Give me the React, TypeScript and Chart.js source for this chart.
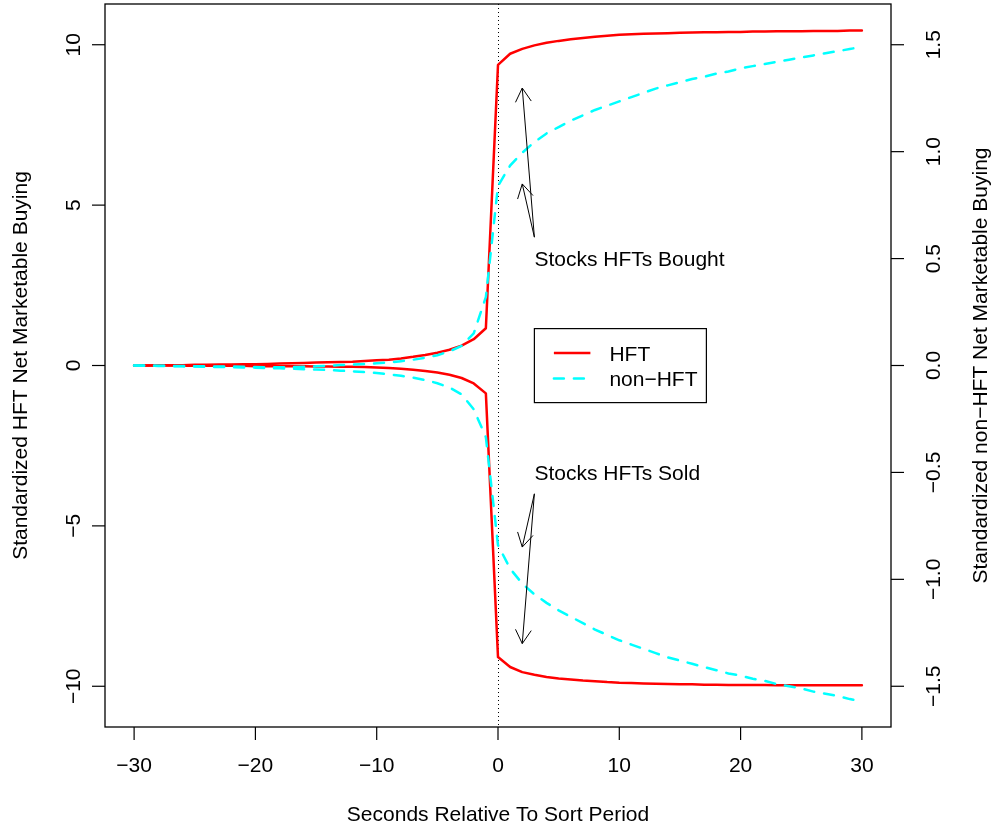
import React, { useEffect, useRef } from "react";
import { Chart, registerables } from "chart.js";

Chart.register(...registerables);

// Seconds relative to sort period
const SECONDS = [
  -30, -29, -28, -27, -26, -25, -24, -23, -22, -21, -20, -19, -18, -17, -16, -15,
  -14, -13, -12, -11, -10, -9, -8, -7, -6, -5, -4, -3, -2, -1, 0, 1, 2, 3, 4, 5,
  6, 7, 8, 9, 10, 11, 12, 13, 14, 15, 16, 17, 18, 19, 20, 21, 22, 23, 24, 25, 26,
  27, 28, 29, 30,
];

// Standardized HFT net marketable buying (left axis) – stocks HFTs bought
const HFT_BOUGHT = [
  0.0, 0.0, 0.01, 0.01, 0.01, 0.02, 0.02, 0.03, 0.03, 0.04, 0.04, 0.05, 0.06, 0.07,
  0.08, 0.09, 0.1, 0.11, 0.12, 0.14, 0.16, 0.18, 0.22, 0.27, 0.33, 0.4, 0.49, 0.62,
  0.82, 1.16, 9.37, 9.72, 9.87, 9.98, 10.06, 10.12, 10.17, 10.21, 10.25, 10.28,
  10.31, 10.33, 10.34, 10.35, 10.36, 10.37, 10.38, 10.39, 10.39, 10.4, 10.4, 10.41,
  10.41, 10.42, 10.42, 10.42, 10.43, 10.43, 10.43, 10.44, 10.44,
];

// Standardized HFT net marketable buying (left axis) – stocks HFTs sold
const HFT_SOLD = [
  0.0, 0.0, 0.0, 0.0, -0.01, -0.01, -0.01, -0.01, -0.01, -0.01, -0.02, -0.02, -0.02,
  -0.02, -0.02, -0.03, -0.03, -0.04, -0.04, -0.05, -0.06, -0.08, -0.1, -0.13, -0.17,
  -0.22, -0.29, -0.39, -0.56, -0.87, -9.09, -9.4, -9.56, -9.64, -9.71, -9.76, -9.79,
  -9.82, -9.84, -9.87, -9.89, -9.9, -9.91, -9.92, -9.93, -9.94, -9.94, -9.95, -9.95,
  -9.96, -9.96, -9.96, -9.96, -9.97, -9.97, -9.97, -9.97, -9.97, -9.97, -9.97, -9.97,
];

// Standardized non-HFT net marketable buying (right axis) – stocks HFTs bought
const NONHFT_BOUGHT = [
  0.0, 0.0, -0.001, -0.002, -0.002, -0.003, -0.004, -0.005, -0.005, -0.006, -0.007,
  -0.008, -0.008, -0.007, -0.006, -0.004, -0.001, 0.002, 0.004, 0.007, 0.01, 0.014,
  0.02, 0.027, 0.036, 0.048, 0.066, 0.092, 0.15, 0.32, 0.84, 0.935, 0.995, 1.045,
  1.085, 1.115, 1.145, 1.17, 1.195, 1.215, 1.235, 1.255, 1.275, 1.295, 1.31, 1.325,
  1.34, 1.35, 1.365, 1.375, 1.39, 1.4, 1.41, 1.42, 1.43, 1.44, 1.45, 1.46, 1.47,
  1.48, 1.49,
];

// Standardized non-HFT net marketable buying (right axis) – stocks HFTs sold
const NONHFT_SOLD = [
  0.0, -0.001, -0.002, -0.003, -0.004, -0.005, -0.006, -0.007, -0.008, -0.009, -0.01,
  -0.012, -0.013, -0.015, -0.017, -0.019, -0.021, -0.024, -0.027, -0.031, -0.035,
  -0.041, -0.048, -0.057, -0.068, -0.083, -0.103, -0.135, -0.205, -0.335, -0.84,
  -0.95, -1.02, -1.07, -1.11, -1.145, -1.175, -1.205, -1.235, -1.26, -1.285, -1.305,
  -1.325, -1.345, -1.365, -1.38, -1.395, -1.41, -1.425, -1.44, -1.45, -1.465, -1.475,
  -1.49, -1.5, -1.51, -1.525, -1.535, -1.545, -1.56, -1.57,
];

const X_TICKS = [-30, -20, -10, 0, 10, 20, 30];
const Y_LEFT_TICKS = [-10, -5, 0, 5, 10];
const Y_RIGHT_TICKS = [-1.5, -1.0, -0.5, 0.0, 0.5, 1.0, 1.5];

const X_TITLE = "Seconds Relative To Sort Period";
const Y_LEFT_TITLE = "Standardized HFT Net Marketable Buying";
const Y_RIGHT_TITLE = "Standardized non\u2212HFT Net Marketable Buying";
const LEGEND_LABELS = ["HFT", "non\u2212HFT"];

const NOTE_BOUGHT = { text: "Stocks HFTs Bought", x: 3, y: 3.33, fromY: 4.0, tipX: 2, tipYs: [8.65, 5.66] };
const NOTE_SOLD = { text: "Stocks HFTs Sold", x: 3, y: -3.33, fromY: -4.0, tipX: 2, tipYs: [-5.66, -8.67] };
const LEGEND_ANCHOR = { x: 3, y: 1.15 };

const RED = "#ff0000";
const CYAN = "#00ffff";
const FONT_FAMILY = '"Liberation Sans", Arial, Helvetica, sans-serif';
const FONT = `21px ${FONT_FAMILY}`;
const CAP_HALF = 7.5;

const fmt = (v: number, digits: number) => {
  const s = v.toFixed(digits);
  return s.startsWith("-") ? "\u2212" + s.slice(1) : s;
};

const rPlot = {
  id: "rPlot",
  beforeDatasetsDraw(chart: any) {
    const ctx = chart.ctx;
    const { top, bottom } = chart.chartArea;
    const xs = chart.scales.x;
    const px = xs.getPixelForValue(0);
    ctx.save();
    ctx.strokeStyle = "#000";
    ctx.lineWidth = 1;
    ctx.setLineDash([1, 3]);
    ctx.beginPath();
    ctx.moveTo(Math.round(px) + 0.5, top);
    ctx.lineTo(Math.round(px) + 0.5, bottom);
    ctx.stroke();
    ctx.restore();
  },
  afterDraw(chart: any) {
    const ctx = chart.ctx;
    const { left, right, top, bottom } = chart.chartArea;
    const xs = chart.scales.x;
    const yl = chart.scales.y;
    const yr = chart.scales.y2;
    ctx.save();
    ctx.strokeStyle = "#000";
    ctx.fillStyle = "#000";
    ctx.setLineDash([]);
    ctx.font = FONT;

    ctx.lineWidth = 1.3;
    ctx.strokeRect(left, top, right - left, bottom - top);

    ctx.lineWidth = 1.2;
    ctx.textAlign = "center";
    ctx.textBaseline = "alphabetic";
    X_TICKS.forEach((v) => {
      const p = xs.getPixelForValue(v);
      ctx.beginPath();
      ctx.moveTo(p, bottom);
      ctx.lineTo(p, bottom + 13);
      ctx.stroke();
      ctx.fillText(fmt(v, 0), p, bottom + 45);
    });
    ctx.fillText(X_TITLE, (left + right) / 2, bottom + 94);

    Y_LEFT_TICKS.forEach((v) => {
      const p = yl.getPixelForValue(v);
      ctx.beginPath();
      ctx.moveTo(left, p);
      ctx.lineTo(left - 13, p);
      ctx.stroke();
      ctx.save();
      ctx.translate(left - 25, p);
      ctx.rotate(-Math.PI / 2);
      ctx.fillText(fmt(v, 0), 0, 0);
      ctx.restore();
    });
    ctx.save();
    ctx.translate(left - 78, (top + bottom) / 2);
    ctx.rotate(-Math.PI / 2);
    ctx.fillText(Y_LEFT_TITLE, 0, 0);
    ctx.restore();

    Y_RIGHT_TICKS.forEach((v) => {
      const p = yr.getPixelForValue(v);
      ctx.beginPath();
      ctx.moveTo(right, p);
      ctx.lineTo(right + 13, p);
      ctx.stroke();
      ctx.save();
      ctx.translate(right + 49, p);
      ctx.rotate(-Math.PI / 2);
      ctx.fillText(fmt(v, 1), 0, 0);
      ctx.restore();
    });
    ctx.save();
    ctx.translate(right + 95.5, (top + bottom) / 2);
    ctx.rotate(-Math.PI / 2);
    ctx.fillText(Y_RIGHT_TITLE, 0, 0);
    ctx.restore();

    const drawArrow = (x0: number, y0: number, x1: number, y1: number) => {
      ctx.lineWidth = 1;
      ctx.beginPath();
      ctx.moveTo(x0, y0);
      ctx.lineTo(x1, y1);
      ctx.stroke();
      const dx = x1 - x0;
      const dy = y1 - y0;
      const len = Math.hypot(dx, dy);
      const ux = dx / len;
      const uy = dy / len;
      const L = 15.8;
      const a = Math.PI / 6;
      [a, -a].forEach((ang) => {
        const rx = ux * Math.cos(ang) - uy * Math.sin(ang);
        const ry = ux * Math.sin(ang) + uy * Math.cos(ang);
        ctx.beginPath();
        ctx.moveTo(x1, y1);
        ctx.lineTo(x1 - L * rx, y1 - L * ry);
        ctx.stroke();
      });
    };
    [NOTE_BOUGHT, NOTE_SOLD].forEach((n) => {
      ctx.textAlign = "left";
      ctx.fillText(n.text, xs.getPixelForValue(n.x), yl.getPixelForValue(n.y) + CAP_HALF);
      const sx = xs.getPixelForValue(n.x);
      const sy = yl.getPixelForValue(n.fromY);
      n.tipYs.forEach((ty) => drawArrow(sx, sy, xs.getPixelForValue(n.tipX), yl.getPixelForValue(ty)));
    });

    const lx = xs.getPixelForValue(LEGEND_ANCHOR.x);
    const ly = yl.getPixelForValue(LEGEND_ANCHOR.y);
    ctx.fillStyle = "#fff";
    ctx.fillRect(lx, ly, 172, 74);
    ctx.fillStyle = "#000";
    ctx.lineWidth = 1.2;
    ctx.strokeRect(lx, ly, 172, 74);
    const rows = [
      { color: RED, dash: [] as number[], label: LEGEND_LABELS[0], y: ly + 24.5 },
      { color: CYAN, dash: [10, 10], label: LEGEND_LABELS[1], y: ly + 50 },
    ];
    rows.forEach((r) => {
      ctx.save();
      ctx.strokeStyle = r.color;
      ctx.lineWidth = 2.5;
      ctx.lineCap = r.dash.length ? "round" : "butt";
      ctx.setLineDash(r.dash);
      ctx.beginPath();
      ctx.moveTo(lx + 19.5, r.y);
      ctx.lineTo(lx + 56, r.y);
      ctx.stroke();
      ctx.restore();
      ctx.textAlign = "left";
      ctx.fillText(r.label, lx + 75, r.y + 7.5);
    });
    ctx.restore();
  },
};

const toPoints = (ys: number[]) => SECONDS.map((x, i) => ({ x, y: ys[i] }));

export default function App() {
  const ref = useRef<HTMLCanvasElement>(null);
  useEffect(() => {
    if (!ref.current) return;
    const cyanStyle = {
      borderColor: CYAN,
      borderWidth: 2.5,
      borderDash: [10, 10],
      borderCapStyle: "round" as const,
      pointRadius: 0,
      tension: 0,
      fill: false,
      yAxisID: "y2",
    };
    const redStyle = {
      borderColor: RED,
      borderWidth: 2.5,
      borderCapStyle: "round" as const,
      borderJoinStyle: "round" as const,
      pointRadius: 0,
      tension: 0,
      fill: false,
      yAxisID: "y",
    };
    const chart = new Chart(ref.current, {
      type: "line",
      data: {
        datasets: [
          { label: "non-HFT bought", data: toPoints(NONHFT_BOUGHT), ...cyanStyle },
          { label: "non-HFT sold", data: toPoints(NONHFT_SOLD), ...cyanStyle },
          { label: "HFT bought", data: toPoints(HFT_BOUGHT), ...redStyle },
          { label: "HFT sold", data: toPoints(HFT_SOLD), ...redStyle },
        ],
      },
      options: {
        responsive: false,
        animation: false,
        devicePixelRatio: 1,
        events: [],
        layout: { padding: { left: 105, right: 104, top: 4, bottom: 102 } },
        plugins: { legend: { display: false }, tooltip: { enabled: false } },
        scales: {
          x: { type: "linear", min: -32.4, max: 32.4, display: false },
          y: { type: "linear", min: -11.27, max: 11.27, display: false },
          y2: { type: "linear", min: -1.6905, max: 1.6905, display: false, position: "right" },
        },
      },
      plugins: [rPlot],
    });
    return () => chart.destroy();
  }, []);
  return (
    <div style={{ position: "fixed", left: 0, top: 0, width: 995, height: 829, background: "#fff" }}>
      <canvas ref={ref} width={995} height={829} style={{ display: "block" }} />
    </div>
  );
}
